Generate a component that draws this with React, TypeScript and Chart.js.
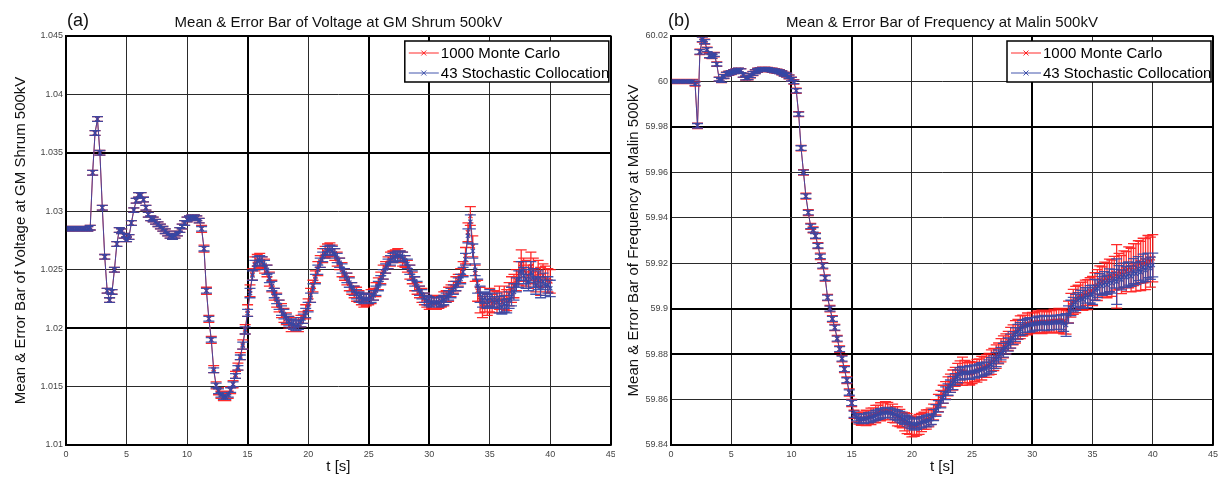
import React, { useEffect, useRef } from "react";
import { Chart, registerables } from "chart.js";

Chart.register(...registerables);

// ---------------- DATA ----------------
const TIME = [
  0, 0.2, 0.4, 0.6, 0.8, 1, 1.2, 1.4, 1.6, 1.8,
  2, 2.2, 2.4, 2.6, 2.8, 3, 3.2, 3.4, 3.6, 3.8,
  4, 4.2, 4.4, 4.6, 4.8, 5, 5.2, 5.4, 5.6, 5.8,
  6, 6.2, 6.4, 6.6, 6.8, 7, 7.2, 7.4, 7.6, 7.8,
  8, 8.2, 8.4, 8.6, 8.8, 9, 9.2, 9.4, 9.6, 9.8,
  10, 10.2, 10.4, 10.6, 10.8, 11, 11.2, 11.4, 11.6, 11.8,
  12, 12.2, 12.4, 12.6, 12.8, 13, 13.2, 13.4, 13.6, 13.8,
  14, 14.2, 14.4, 14.6, 14.8, 15, 15.2, 15.4, 15.6, 15.8,
  16, 16.2, 16.4, 16.6, 16.8, 17, 17.2, 17.4, 17.6, 17.8,
  18, 18.2, 18.4, 18.6, 18.8, 19, 19.2, 19.4, 19.6, 19.8,
  20, 20.2, 20.4, 20.6, 20.8, 21, 21.2, 21.4, 21.6, 21.8,
  22, 22.2, 22.4, 22.6, 22.8, 23, 23.2, 23.4, 23.6, 23.8,
  24, 24.2, 24.4, 24.6, 24.8, 25, 25.2, 25.4, 25.6, 25.8,
  26, 26.2, 26.4, 26.6, 26.8, 27, 27.2, 27.4, 27.6, 27.8,
  28, 28.2, 28.4, 28.6, 28.8, 29, 29.2, 29.4, 29.6, 29.8,
  30, 30.2, 30.4, 30.6, 30.8, 31, 31.2, 31.4, 31.6, 31.8,
  32, 32.2, 32.4, 32.6, 32.8, 33, 33.2, 33.4, 33.6, 33.8,
  34, 34.2, 34.4, 34.6, 34.8, 35, 35.2, 35.4, 35.6, 35.8,
  36, 36.2, 36.4, 36.6, 36.8, 37, 37.2, 37.4, 37.6, 37.8,
  38, 38.2, 38.4, 38.6, 38.8, 39, 39.2, 39.4, 39.6, 39.8,
  40,
];

// (a) Voltage at GM Shrum 500kV - mean values
const V_MC = [
  1.0285, 1.0285, 1.0285, 1.0285, 1.0285, 1.0285, 1.0285, 1.0285, 1.0285, 1.0285,
  1.0286, 1.0333, 1.0367, 1.0379, 1.035, 1.0303, 1.0261, 1.0232, 1.0224, 1.0231,
  1.025, 1.0272, 1.0284, 1.0283, 1.0279, 1.0276, 1.0278, 1.029, 1.0301, 1.0309,
  1.0314, 1.0314, 1.031, 1.0303, 1.0297, 1.0294, 1.0293, 1.0291, 1.0289, 1.0287,
  1.0285, 1.0283, 1.0281, 1.0279, 1.0278, 1.0279, 1.0281, 1.0284, 1.0287, 1.029,
  1.0293, 1.0294, 1.0295, 1.0295, 1.0294, 1.0292, 1.0285, 1.0268, 1.0232, 1.0208,
  1.019, 1.0165, 1.0151, 1.0146, 1.0143, 1.0141, 1.0141, 1.0143, 1.0147, 1.0152,
  1.016, 1.0167, 1.0176, 1.0186, 1.0199, 1.0215, 1.0232, 1.0246, 1.0255, 1.0258,
  1.0258, 1.0256, 1.0253, 1.0249, 1.0242, 1.0236, 1.0229, 1.0224, 1.0219, 1.0215,
  1.0211, 1.0208, 1.0205, 1.0203, 1.0202, 1.0202, 1.0203, 1.0206, 1.0209, 1.0214,
  1.022, 1.0228, 1.0236, 1.0244, 1.0251, 1.0257, 1.0262, 1.0265, 1.0267, 1.0267,
  1.0266, 1.0263, 1.0259, 1.0255, 1.025, 1.0246, 1.0242, 1.0238, 1.0234, 1.0231,
  1.0229, 1.0227, 1.0225, 1.0224, 1.0224, 1.0225, 1.0227, 1.0229, 1.0233, 1.0238,
  1.0243, 1.0248, 1.0252, 1.0256, 1.0259, 1.0261, 1.0262, 1.0262, 1.0261, 1.0259,
  1.0257, 1.0253, 1.0248, 1.0243, 1.0238, 1.0234, 1.0231, 1.0228, 1.0225, 1.0223,
  1.0222, 1.0222, 1.0221, 1.0222, 1.0222, 1.0223, 1.0225, 1.0227, 1.0229, 1.0232,
  1.0235, 1.0238, 1.0241, 1.0245, 1.0251, 1.0262, 1.0282, 1.0296, 1.027, 1.0247,
  1.0232, 1.0224, 1.0218, 1.0222, 1.022, 1.0224, 1.0221, 1.0225, 1.0222, 1.0226,
  1.0222, 1.0226, 1.0224, 1.0229, 1.0233, 1.0236, 1.0241, 1.0247, 1.0255, 1.025,
  1.0247, 1.0244, 1.0253, 1.0249, 1.0241, 1.0247, 1.024, 1.0245, 1.0242, 1.0241,
  1.024,
];

const V_SC = [
  1.0285, 1.0285, 1.0285, 1.0285, 1.0285, 1.0285, 1.0285, 1.0285, 1.0285, 1.0285,
  1.0286, 1.0333, 1.0367, 1.0379, 1.035, 1.0303, 1.0261, 1.0232, 1.0224, 1.0231,
  1.025, 1.0272, 1.0284, 1.0283, 1.0279, 1.0276, 1.0278, 1.029, 1.0301, 1.0309,
  1.0314, 1.0314, 1.031, 1.0303, 1.0297, 1.0294, 1.0293, 1.0291, 1.0289, 1.0287,
  1.0285, 1.0283, 1.0281, 1.0279, 1.0278, 1.0279, 1.0281, 1.0284, 1.0287, 1.029,
  1.0293, 1.0294, 1.0295, 1.0295, 1.0294, 1.0292, 1.0285, 1.0268, 1.0232, 1.0208,
  1.019, 1.0164, 1.0151, 1.0146, 1.0143, 1.0141, 1.0141, 1.0143, 1.0147, 1.0152,
  1.0159, 1.0166, 1.0175, 1.0185, 1.0198, 1.0213, 1.023, 1.0245, 1.0254, 1.0257,
  1.0258, 1.0257, 1.0254, 1.025, 1.0243, 1.0236, 1.023, 1.0225, 1.022, 1.0215,
  1.0212, 1.0208, 1.0206, 1.0204, 1.0203, 1.0202, 1.0203, 1.0205, 1.0208, 1.0213,
  1.0218, 1.0226, 1.0234, 1.0242, 1.025, 1.0256, 1.0261, 1.0264, 1.0266, 1.0267,
  1.0266, 1.0264, 1.026, 1.0256, 1.0251, 1.0247, 1.0243, 1.0239, 1.0235, 1.0232,
  1.0229, 1.0227, 1.0226, 1.0225, 1.0225, 1.0225, 1.0226, 1.0228, 1.0232, 1.0236,
  1.0241, 1.0246, 1.0251, 1.0255, 1.0258, 1.026, 1.0261, 1.0262, 1.0262, 1.0261,
  1.0258, 1.0255, 1.025, 1.0245, 1.024, 1.0236, 1.0232, 1.0229, 1.0226, 1.0224,
  1.0223, 1.0222, 1.0222, 1.0222, 1.0222, 1.0223, 1.0224, 1.0226, 1.0228, 1.023,
  1.0233, 1.0236, 1.0239, 1.0242, 1.0248, 1.0259, 1.0279, 1.0291, 1.0266, 1.025,
  1.0236, 1.0229, 1.0224, 1.0226, 1.0223, 1.0226, 1.0224, 1.0222, 1.0224, 1.022,
  1.0218, 1.0221, 1.0219, 1.0224, 1.0227, 1.0231, 1.0237, 1.0242, 1.0249, 1.0245,
  1.0242, 1.0239, 1.0248, 1.0243, 1.0236, 1.0241, 1.0235, 1.024, 1.0236, 1.0237,
  1.0234,
];

// error half-lengths, in units of ERR_UNIT
const V_MC_ERR = [
  2, 2, 2, 2, 2, 2, 2, 2, 2, 2,
  2, 2, 2, 2, 2, 2, 2, 2, 2, 2,
  2, 2, 2, 2, 2, 2, 2, 2, 2, 2,
  2, 2, 2, 2, 2, 2, 2, 2, 2, 2,
  2, 2, 2, 2, 2, 2, 2, 2, 2, 2,
  2, 2, 2, 2, 2, 2, 3, 3, 3, 3,
  3, 3, 3, 3, 3, 3, 3, 3, 3, 3,
  3, 3, 3, 4, 4, 5, 5, 5, 6, 5,
  6, 5, 6, 5, 6, 5, 5, 6, 5, 6,
  6, 5, 5, 6, 5, 5, 6, 5, 5, 6,
  5, 6, 5, 5, 6, 5, 6, 5, 5, 6,
  5, 5, 6, 5, 6, 5, 5, 6, 5, 5,
  6, 5, 5, 6, 5, 5, 6, 5, 6, 5,
  5, 6, 5, 5, 6, 5, 5, 6, 5, 6,
  5, 5, 6, 5, 6, 5, 5, 6, 5, 5,
  6, 5, 5, 6, 5, 5, 6, 5, 6, 5,
  5, 6, 5, 6, 6, 7, 8, 8, 9, 7,
  9, 11, 9, 8, 9, 10, 8, 7, 9, 10,
  9, 10, 9, 10, 11, 10, 9, 10, 12, 10,
  11, 10, 12, 11, 10, 11, 12, 10, 11, 10,
  10,
];

const V_SC_ERR = [
  2, 2, 2, 2, 2, 2, 2, 2, 2, 2,
  2, 2, 2, 2, 2, 2, 2, 2, 2, 2,
  2, 2, 2, 2, 2, 2, 2, 2, 2, 2,
  2, 2, 2, 2, 2, 2, 2, 2, 2, 2,
  2, 2, 2, 2, 2, 2, 2, 2, 2, 2,
  2, 2, 2, 2, 2, 2, 2, 2, 2, 2,
  2, 2, 2, 2, 2, 2, 2, 2, 2, 2,
  2, 2, 2, 3, 3, 3, 4, 4, 4, 4,
  4, 4, 4, 4, 4, 4, 4, 4, 4, 4,
  4, 4, 4, 4, 4, 4, 4, 4, 4, 4,
  4, 4, 4, 4, 4, 4, 4, 4, 4, 4,
  4, 4, 4, 4, 4, 4, 4, 4, 4, 4,
  4, 4, 4, 4, 4, 4, 4, 4, 4, 4,
  4, 4, 4, 4, 4, 4, 4, 4, 4, 4,
  4, 4, 4, 4, 4, 4, 4, 4, 4, 4,
  4, 4, 4, 4, 4, 4, 4, 4, 4, 4,
  4, 4, 4, 4, 4, 5, 6, 6, 6, 5,
  6, 7, 6, 5, 6, 7, 6, 5, 6, 7,
  6, 7, 6, 7, 8, 7, 6, 7, 8, 7,
  8, 7, 9, 8, 7, 8, 9, 7, 8, 7,
  7,
];

// (b) Frequency at Malin 500kV - mean values
const F_MC = [
  60, 60, 60, 60, 60, 60, 60, 60, 60, 60,
  59.999, 59.9805, 60.013, 60.0185, 60.0175, 60.014, 60.0113, 60.011, 60.0118, 60.0076,
  60.001, 60.0004, 60.0022, 60.0032, 60.0036, 60.0039, 60.0043, 60.0047, 60.005, 60.0047,
  60.0027, 60.0015, 60.0016, 60.0025, 60.0035, 60.0043, 60.0049, 60.0052, 60.0054, 60.0054,
  60.0053, 60.0051, 60.0049, 60.0047, 60.0045, 60.0043, 60.0038, 60.0032, 60.0028, 60.002,
  60.001, 59.9998, 59.9959, 59.9856, 59.9707, 59.96, 59.9495, 59.9423, 59.9362, 59.9347,
  59.932, 59.9277, 59.923, 59.9189, 59.9135, 59.9049, 59.9, 59.8955, 59.8917, 59.8868,
  59.8822, 59.878, 59.8734, 59.8685, 59.8631, 59.8585, 59.8535, 59.8522, 59.8516, 59.8514,
  59.8516, 59.8519, 59.8523, 59.8526, 59.8531, 59.8536, 59.8541, 59.8546, 59.8549, 59.8551,
  59.855, 59.8546, 59.854, 59.8533, 59.8526, 59.8519, 59.851, 59.8502, 59.8494, 59.8487,
  59.8482, 59.848, 59.8484, 59.8491, 59.8499, 59.8507, 59.8512, 59.8518, 59.8526, 59.8545,
  59.8566, 59.8585, 59.8604, 59.8623, 59.8641, 59.8658, 59.8672, 59.8686, 59.87, 59.8713,
  59.8722, 59.8725, 59.8722, 59.8718, 59.8716, 59.8718, 59.8722, 59.8727, 59.8733, 59.8738,
  59.8743, 59.8748, 59.8756, 59.8765, 59.8776, 59.8789, 59.8803, 59.8817, 59.8832, 59.8845,
  59.8858, 59.8872, 59.8885, 59.8898, 59.8909, 59.8918, 59.8925, 59.893, 59.8933, 59.8935,
  59.8937, 59.8939, 59.894, 59.8941, 59.8942, 59.8941, 59.8942, 59.8943, 59.8944, 59.8945,
  59.8946, 59.8947, 59.8948, 59.8945, 59.894, 59.8985, 59.9015, 59.903, 59.904, 59.905,
  59.9058, 59.9055, 59.907, 59.9062, 59.9076, 59.9078, 59.9098, 59.9104, 59.9126, 59.9118,
  59.9135, 59.9124, 59.9146, 59.9134, 59.9156, 59.9142, 59.9165, 59.915, 59.9174, 59.9163,
  59.9182, 59.917, 59.9194, 59.9181, 59.9205, 59.9188, 59.9212, 59.9196, 59.922, 59.9205,
  59.9222,
];

const F_SC = [
  60, 60, 60, 60, 60, 60, 60, 60, 60, 60,
  59.999, 59.9805, 60.013, 60.0185, 60.0175, 60.014, 60.0113, 60.011, 60.0118, 60.0076,
  60.001, 60.0004, 60.0022, 60.0032, 60.0036, 60.0039, 60.0043, 60.0047, 60.005, 60.0047,
  60.0027, 60.0015, 60.0016, 60.0025, 60.0035, 60.0043, 60.0049, 60.0052, 60.0054, 60.0054,
  60.0053, 60.0051, 60.0049, 60.0047, 60.0045, 60.0043, 60.0038, 60.0032, 60.0028, 60.002,
  60.001, 59.9998, 59.9959, 59.9856, 59.9707, 59.96, 59.9495, 59.9423, 59.9362, 59.9347,
  59.932, 59.9277, 59.923, 59.9189, 59.9135, 59.9049, 59.9, 59.8955, 59.8917, 59.8868,
  59.8822, 59.878, 59.8734, 59.8685, 59.8631, 59.8585, 59.8535, 59.8522, 59.8516, 59.8514,
  59.8515, 59.8517, 59.852, 59.8522, 59.8526, 59.853, 59.8534, 59.8538, 59.8541, 59.8543,
  59.8543, 59.8541, 59.8538, 59.8534, 59.853, 59.8525, 59.8518, 59.8512, 59.8505, 59.8498,
  59.8493, 59.849, 59.8492, 59.8496, 59.85, 59.8503, 59.8505, 59.8508, 59.8514, 59.8532,
  59.8552, 59.857, 59.859, 59.861, 59.8628, 59.8644, 59.8659, 59.8673, 59.8688, 59.8702,
  59.8713, 59.8717, 59.8718, 59.8717, 59.8719, 59.8721, 59.8723, 59.8725, 59.8729, 59.8732,
  59.8736, 59.8739, 59.8746, 59.8754, 59.8764, 59.8776, 59.8789, 59.8802, 59.8817, 59.8828,
  59.8842, 59.8857, 59.8871, 59.8886, 59.8899, 59.891, 59.8918, 59.8924, 59.8927, 59.8929,
  59.8931, 59.8933, 59.8935, 59.8936, 59.8937, 59.8937, 59.8936, 59.8938, 59.8937, 59.8939,
  59.894, 59.8939, 59.8941, 59.8936, 59.8928, 59.8974, 59.9003, 59.9018, 59.9028, 59.9038,
  59.9046, 59.9041, 59.9058, 59.9049, 59.9063, 59.9061, 59.9083, 59.9088, 59.9109, 59.91,
  59.9116, 59.9105, 59.9125, 59.9113, 59.9132, 59.9119, 59.914, 59.9127, 59.9148, 59.9139,
  59.9155, 59.9143, 59.9165, 59.9154, 59.9176, 59.9161, 59.9183, 59.9169, 59.919, 59.9178,
  59.9192,
];

const F_MC_ERR = [
  9, 9, 9, 9, 9, 9, 9, 9, 9, 9,
  10, 12, 12, 12, 11, 11, 10, 10, 10, 10,
  9, 9, 9, 9, 9, 9, 9, 9, 9, 9,
  9, 9, 9, 9, 9, 9, 9, 9, 9, 9,
  9, 9, 9, 9, 9, 9, 9, 9, 9, 9,
  9, 10, 11, 11, 12, 12, 13, 13, 13, 13,
  13, 13, 14, 14, 14, 14, 14, 14, 14, 14,
  14, 14, 15, 15, 16, 16, 18, 20, 24, 28,
  30, 34, 30, 36, 32, 38, 34, 40, 36, 40,
  38, 34, 40, 36, 42, 38, 35, 40, 44, 40,
  46, 42, 40, 44, 40, 38, 42, 38, 36, 35,
  34, 38, 36, 40, 38, 42, 40, 44, 42, 46,
  48, 62, 50, 44, 52, 48, 42, 50, 46, 52,
  44, 50, 47, 54, 49, 52, 46, 51, 48, 44,
  42, 46, 44, 49, 44, 50, 46, 42, 48, 45,
  47, 43, 50, 46, 52, 48, 44, 51, 47, 53,
  49, 54, 50, 56, 52, 48, 52, 55, 58, 54,
  58, 62, 56, 66, 60, 64, 60, 68, 62, 66,
  70, 76, 72, 80, 74, 140, 78, 84, 80, 88,
  90, 96, 92, 104, 94, 108, 98, 112, 102, 110,
  104,
];

const F_SC_ERR = [
  6, 6, 6, 6, 6, 6, 6, 6, 6, 6,
  7, 10, 10, 10, 9, 9, 8, 8, 8, 8,
  8, 8, 8, 8, 8, 8, 8, 8, 8, 8,
  8, 8, 8, 8, 8, 8, 8, 8, 8, 8,
  8, 8, 8, 8, 8, 8, 8, 8, 8, 8,
  8, 8, 9, 9, 10, 10, 10, 10, 10, 10,
  10, 10, 10, 11, 11, 11, 11, 11, 11, 11,
  11, 11, 11, 11, 12, 12, 14, 16, 18, 20,
  21, 20, 22, 21, 20, 22, 21, 22, 20, 21,
  22, 21, 20, 22, 21, 23, 22, 21, 22, 23,
  22, 24, 23, 22, 24, 23, 25, 24, 23, 25,
  26, 25, 27, 26, 28, 25, 27, 29, 26, 28,
  27, 29, 26, 28, 30, 27, 29, 26, 28, 30,
  28, 27, 29, 30, 28, 31, 29, 27, 30, 28,
  29, 31, 28, 30, 32, 29, 31, 28, 30, 32,
  30, 28, 32, 29, 31, 33, 30, 32, 29, 31,
  32, 30, 33, 36, 50, 38, 34, 32, 35, 33,
  36, 40, 34, 44, 38, 42, 46, 39, 45, 41,
  47, 42, 50, 45, 41, 100, 49, 44, 52, 46,
  51, 45, 55, 48, 53, 47, 57, 50, 54, 49,
  52,
];

const ERR_UNIT = 1e-4;

const X_TICKS = [0, 5, 10, 15, 20, 25, 30, 35, 40, 45];
const V_TICKS = [1.01, 1.015, 1.02, 1.025, 1.03, 1.035, 1.04, 1.045];
const F_TICKS = [59.84, 59.86, 59.88, 59.9, 59.92, 59.94, 59.96, 59.98, 60, 60.02];

const SERIES_NAMES = ["1000 Monte Carlo", "43 Stochastic Collocation"];

// ---------------- STYLE ----------------
const FONT = "'Liberation Sans', Arial, Helvetica, sans-serif";
const RED = "rgba(255,20,20,0.9)";
const BLUE = "rgba(52,72,166,0.92)";
const CAP_HALF = 5.5;

Chart.defaults.font.family = FONT;

function fmt(v: number) {
  return String(parseFloat(Number(v).toFixed(4)));
}

const errorBarPlugin = {
  id: "errorBars",
  beforeDatasetDraw(chart: any, args: any) {
    const ds = chart.data.datasets[args.index];
    const errs: number[] | undefined = ds.errors;
    if (!errs) return;
    const xs = chart.scales.x;
    const ys = chart.scales.y;
    const a = chart.chartArea;
    const ctx = chart.ctx;
    ctx.save();
    ctx.beginPath();
    ctx.rect(a.left, a.top, a.right - a.left, a.bottom - a.top);
    ctx.clip();
    ctx.strokeStyle = ds.borderColor;
    ctx.lineWidth = 1.3;
    ctx.beginPath();
    ds.data.forEach((p: any, i: number) => {
      const px = xs.getPixelForValue(p.x);
      const top = ys.getPixelForValue(p.y + errs[i]);
      const bot = ys.getPixelForValue(p.y - errs[i]);
      ctx.moveTo(px, top);
      ctx.lineTo(px, bot);
      ctx.moveTo(px - CAP_HALF, top);
      ctx.lineTo(px + CAP_HALF, top);
      ctx.moveTo(px - CAP_HALF, bot);
      ctx.lineTo(px + CAP_HALF, bot);
    });
    ctx.stroke();
    ctx.restore();
  },
};

const decorPlugin = {
  id: "decor",
  afterDraw(chart: any) {
    const o = chart.options.plugins.decor;
    const a = chart.chartArea;
    const ctx = chart.ctx;
    ctx.save();
    // title
    ctx.fillStyle = "#111";
    ctx.font = `15px ${FONT}`;
    ctx.textAlign = "center";
    ctx.textBaseline = "middle";
    ctx.fillText(o.title, (a.left + a.right) / 2, 23);
    // panel label
    ctx.font = `18px ${FONT}`;
    ctx.textAlign = "left";
    ctx.fillText(o.panel, a.left + o.panelDx, 21);
    // frame
    ctx.strokeStyle = "#000";
    ctx.lineWidth = 1.5;
    ctx.strokeRect(a.left, a.top, a.right - a.left, a.bottom - a.top);
    // legend
    const w = 204;
    const h = 41;
    const bx = a.right - 2 - w;
    const by = a.top + 5;
    ctx.fillStyle = "#fff";
    ctx.fillRect(bx, by, w, h);
    ctx.strokeStyle = "#000";
    ctx.lineWidth = 1.5;
    ctx.strokeRect(bx, by, w, h);
    const colors = [RED, BLUE];
    SERIES_NAMES.forEach((name, i) => {
      const cy = by + 12 + i * 20;
      ctx.strokeStyle = colors[i];
      ctx.lineWidth = 1;
      ctx.beginPath();
      ctx.moveTo(bx + 4, cy);
      ctx.lineTo(bx + 34, cy);
      const mx = bx + 19;
      ctx.moveTo(mx - 2.5, cy - 2.5);
      ctx.lineTo(mx + 2.5, cy + 2.5);
      ctx.moveTo(mx - 2.5, cy + 2.5);
      ctx.lineTo(mx + 2.5, cy - 2.5);
      ctx.stroke();
      ctx.fillStyle = "#000";
      ctx.font = `15px ${FONT}`;
      ctx.textAlign = "left";
      ctx.textBaseline = "middle";
      ctx.fillText(name, bx + 36, cy + 0.5);
    });
    ctx.restore();
  },
};

type PanelCfg = {
  title: string;
  panel: string;
  panelDx: number;
  yTitle: string;
  yTicks: number[];
  mc: number[];
  mcErr: number[];
  sc: number[];
  scErr: number[];
  thickX: number[];
  thickY: number[];
  yWidth: number;
  padRight: number;
  yTitlePad: number;
};

function ErrorBarPanel({ cfg, left, width }: { cfg: PanelCfg; left: number; width: number }) {
  const ref = useRef<HTMLCanvasElement>(null);
  useEffect(() => {
    const yMin = cfg.yTicks[0];
    const yMax = cfg.yTicks[cfg.yTicks.length - 1];
    const mk = (vals: number[], errs: number[], label: string, color: string, order: number) => ({
      label,
      data: TIME.map((t, i) => ({ x: t, y: vals[i] })),
      errors: errs.map((e) => e * ERR_UNIT),
      borderColor: color,
      backgroundColor: color,
      borderWidth: 1,
      pointStyle: "crossRot",
      pointRadius: 3,
      pointBorderWidth: 1.2,
      pointBorderColor: color,
      pointHoverRadius: 0,
      tension: 0,
      fill: false,
      order,
    });
    const chart = new Chart(ref.current as HTMLCanvasElement, {
      type: "line",
      data: {
        datasets: [
          mk(cfg.mc, cfg.mcErr, SERIES_NAMES[0], RED, 2),
          mk(cfg.sc, cfg.scErr, SERIES_NAMES[1], BLUE, 1),
        ] as any,
      },
      options: {
        animation: false,
        responsive: false,
        events: [],
        clip: 0 as any,
        layout: { padding: { left: 0, right: cfg.padRight, top: 36, bottom: 0 } },
        plugins: {
          legend: { display: false },
          tooltip: { enabled: false },
          decor: { title: cfg.title, panel: cfg.panel, panelDx: cfg.panelDx },
        } as any,
        scales: {
          x: {
            type: "linear",
            min: 0,
            max: 45,
            afterBuildTicks: (s: any) => {
              s.ticks = X_TICKS.map((v) => ({ value: v }));
            },
            afterFit: (s: any) => {
              s.height = 32;
              s.paddingLeft = 0;
              s.paddingRight = 0;
            },
            ticks: {
              font: { size: 9 },
              color: "#444",
              padding: 4,
              maxRotation: 0,
              callback: (v: any) => fmt(v),
            },
            grid: {
              drawTicks: false,
              color: (c: any) => (cfg.thickX.includes(c.tick?.value) ? "#000" : "#2a2a2a"),
              lineWidth: (c: any) => (cfg.thickX.includes(c.tick?.value) ? 2 : 1),
            },
            border: { display: true, color: "#000", width: 1.5 },
            title: {
              display: true,
              text: "t [s]",
              color: "#111",
              font: { size: 15 },
              padding: { top: 0, bottom: 1 },
            },
          },
          y: {
            type: "linear",
            min: yMin,
            max: yMax,
            afterBuildTicks: (s: any) => {
              s.ticks = cfg.yTicks.map((v) => ({ value: v }));
            },
            afterFit: (s: any) => {
              s.width = cfg.yWidth;
              s.paddingTop = 0;
              s.paddingBottom = 0;
            },
            ticks: {
              font: { size: 9 },
              color: "#444",
              padding: 3,
              callback: (v: any) => fmt(v),
            },
            grid: {
              drawTicks: false,
              color: (c: any) => (cfg.thickY.includes(c.tick?.value) ? "#000" : "#2a2a2a"),
              lineWidth: (c: any) => (cfg.thickY.includes(c.tick?.value) ? 2 : 1),
            },
            border: { display: true, color: "#000", width: 1.5 },
            title: {
              display: true,
              text: cfg.yTitle,
              color: "#111",
              font: { size: 15 },
              padding: { top: cfg.yTitlePad, bottom: 0 },
            },
          },
        },
      } as any,
      plugins: [errorBarPlugin, decorPlugin],
    });
    return () => chart.destroy();
  }, []);
  return (
    <canvas
      ref={ref}
      width={width}
      height={477}
      style={{ position: "absolute", left, top: 0, width, height: 477 }}
    />
  );
}

const PANEL_A: PanelCfg = {
  title: "Mean & Error Bar of Voltage at GM Shrum 500kV",
  panel: "(a)",
  panelDx: 1,
  yTitle: "Mean & Error Bar of Voltage at GM Shrum 500kV",
  yTicks: V_TICKS,
  mc: V_MC,
  mcErr: V_MC_ERR,
  sc: V_SC,
  scErr: V_SC_ERR,
  thickX: [0, 15, 25, 30, 45],
  thickY: [1.01, 1.02, 1.035, 1.045],
  yWidth: 66,
  padRight: 4,
  yTitlePad: 12,
};

const PANEL_B: PanelCfg = {
  title: "Mean & Error Bar of Frequency at Malin 500kV",
  panel: "(b)",
  panelDx: -3,
  yTitle: "Mean & Error Bar of Frequency at Malin 500kV",
  yTicks: F_TICKS,
  mc: F_MC,
  mcErr: F_MC_ERR,
  sc: F_SC,
  scErr: F_SC_ERR,
  thickX: [0, 10, 15, 30, 45],
  thickY: [59.84, 59.88, 59.9, 59.98, 60.02],
  yWidth: 56,
  padRight: 6,
  yTitlePad: 10,
};

export default function App() {
  return (
    <div
      style={{
        position: "fixed",
        left: 0,
        top: 0,
        width: 1219,
        height: 477,
        background: "#fff",
        overflow: "hidden",
      }}
    >
      <ErrorBarPanel cfg={PANEL_A} left={0} width={615} />
      <ErrorBarPanel cfg={PANEL_B} left={615} width={604} />
    </div>
  );
}
